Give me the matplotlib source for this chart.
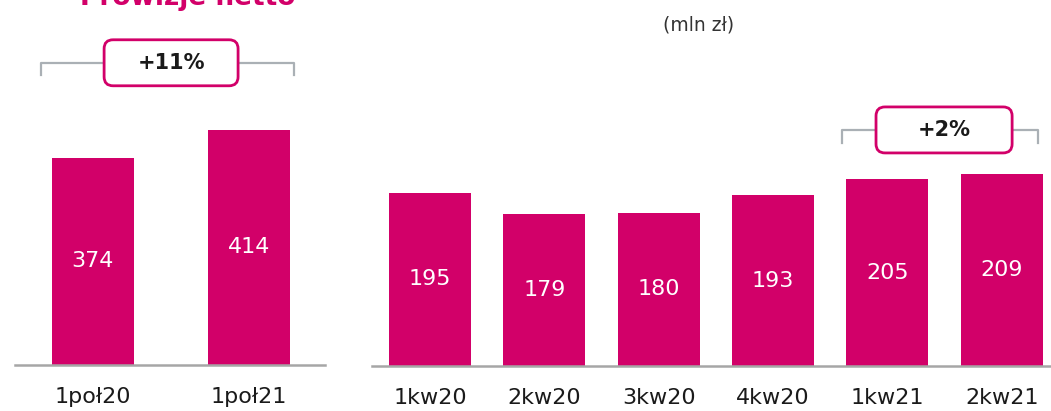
import matplotlib.pyplot as plt
from matplotlib.patches import FancyBboxPatch
from matplotlib.transforms import IdentityTransform

# Half-year totals (left panel) and quarterly values (right panel), mln zl
half_labels = ["1poł20", "1poł21"]
half_values = [374, 414]

quarter_labels = ["1kw20", "2kw20", "3kw20", "4kw20", "1kw21", "2kw21"]
quarter_values = [195, 179, 180, 193, 205, 209]

half_change = "+11%"
quarter_change = "+2%"

PINK = "#d20069"
GRAY_LINE = "#aab0b5"
AXIS_GRAY = "#a6a6a6"
FONT = ["DejaVu Sans"]

W, H = 1051, 411
fig = plt.figure(figsize=(W / 100, H / 100), dpi=100)


def px_axes(x0, x1, y_base):
    # axes from the baseline (pixel y from top) up to the top of the figure
    return fig.add_axes([x0 / W, (H - y_base) / H, (x1 - x0) / W, y_base / H])


def style_axes(ax, labels):
    for side in ["top", "right", "left"]:
        ax.spines[side].set_visible(False)
    ax.spines["bottom"].set_color(AXIS_GRAY)
    ax.spines["bottom"].set_linewidth(1.8)
    ax.set_yticks([])
    ax.set_xticks(range(len(labels)))
    ax.set_xticklabels(labels, fontsize=16, color="#1a1a1a", family=FONT)
    ax.tick_params(axis="x", length=0, pad=16)


def draw_bars(ax, values, width):
    xs = range(len(values))
    bars = ax.bar(xs, values, width=width, color=PINK, zorder=2)
    for bar, v in zip(bars, values):
        y_mid = (ax.get_ylim()[0] + v) / 2
        ax.text(bar.get_x() + bar.get_width() / 2, y_mid, str(v),
                ha="center", va="center", color="white", fontsize=16, family=FONT)


def draw_change_box(ax, line_x, box_x, y_frac, tick_frac, label):
    trans = ax.get_xaxis_transform()
    ax.plot([line_x[0], line_x[0], line_x[1], line_x[1]],
            [y_frac - tick_frac, y_frac, y_frac, y_frac - tick_frac],
            transform=trans, color=GRAY_LINE, lw=1.6, clip_on=False, zorder=1)
    # box drawn in pixels so the rounded corners stay round
    x0, yc = trans.transform((box_x[0], y_frac))
    x1, _ = trans.transform((box_x[1], y_frac))
    h = 46
    box = FancyBboxPatch((x0, yc - h / 2), x1 - x0, h,
                         boxstyle="round,pad=0,rounding_size=9",
                         transform=IdentityTransform(), facecolor="white",
                         edgecolor=PINK, linewidth=2, clip_on=False, zorder=3)
    ax.add_patch(box)
    ax.text((box_x[0] + box_x[1]) / 2, y_frac, label, transform=trans,
            ha="center", va="center", fontsize=15, fontweight="bold",
            color="#1a1a1a", family=FONT, zorder=4, clip_on=False)


# left panel
ax_left = px_axes(15, 325, 365)
ax_left.set_xlim(-0.5, 1.49)
ax_left.set_ylim(78, 599)
style_axes(ax_left, half_labels)
draw_bars(ax_left, half_values, 0.527)
draw_change_box(ax_left, (-0.334, 1.293), (0.072, 0.932), 0.828, 0.033, half_change)

# right panel
ax_right = px_axes(372, 1051, 366)
ax_right.set_xlim(-0.507, 5.43)
ax_right.set_ylim(65, 339.5)
style_axes(ax_right, quarter_labels)
draw_bars(ax_right, quarter_values, 0.717)
draw_change_box(ax_right, (3.60, 5.32), (3.90, 5.09), 0.645, 0.035, quarter_change)

# title is cut by the top edge, as in the source slide
fig.text(80 / W, 1 - 5 / H, "Prowizje netto", ha="left", va="baseline",
         fontsize=19, fontweight="bold", color=PINK, family=FONT)
fig.text(699 / W, 1 - 25 / H, "(mln zł)", ha="center", va="center",
         fontsize=13.5, color="#333333", family=FONT)

fig.savefig("out.png", dpi=100)
